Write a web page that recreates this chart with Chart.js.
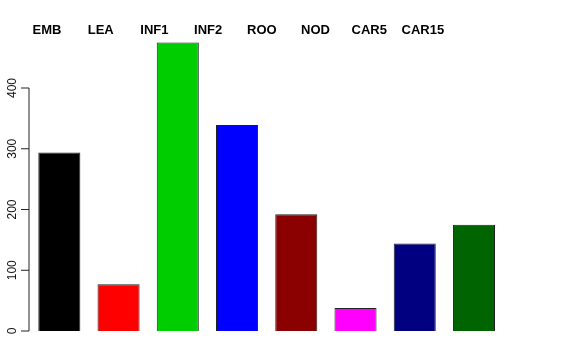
<!DOCTYPE html>
<html>
<head>
<meta charset="utf-8">
<script src="https://cdn.jsdelivr.net/npm/chart.js@4/dist/chart.umd.min.js"></script>
<style>
html,body{margin:0;padding:0;background:#fff;}
#wrap{width:576px;height:360px;position:relative;}
</style>
</head>
<body>
<div id="wrap"><canvas id="c" width="576" height="360"></canvas></div>
<script>
const categories = ["EMB","LEA","INF1","INF2","ROO","NOD","CAR5","CAR15"];
const values = [294, 77, 475, 339, 192, 38, 144, 175];
const barColors = ["#000000","#FF0000","#00CD00","#0000FF","#8B0000","#FF00FF","#000080","#006400"];
const yTicks = [0, 100, 200, 300, 400];

const rAxisPlugin = {
  id: 'rAxis',
  afterDraw(chart) {
    const ctx = chart.ctx;
    const y = chart.scales.y;
    const ax = 29;
    ctx.save();
    ctx.strokeStyle = '#222';
    ctx.lineWidth = 1;
    ctx.beginPath();
    ctx.moveTo(ax, y.getPixelForValue(yTicks[0]));
    ctx.lineTo(ax, y.getPixelForValue(yTicks[yTicks.length-1]));
    yTicks.forEach(t => {
      const py = y.getPixelForValue(t);
      ctx.moveTo(ax, py);
      ctx.lineTo(ax - 8, py);
    });
    ctx.stroke();
    ctx.fillStyle = '#111';
    ctx.font = '12px "Liberation Sans", Arial, sans-serif';
    ctx.textAlign = 'center';
    ctx.textBaseline = 'alphabetic';
    yTicks.forEach(t => {
      const py = y.getPixelForValue(t);
      ctx.save();
      ctx.translate(16, py);
      ctx.rotate(-Math.PI/2);
      ctx.fillText(String(t), 0, 0);
      ctx.restore();
    });
    // top labels
    ctx.fillStyle = '#000';
    ctx.font = 'bold 13px "Liberation Sans", Arial, sans-serif';
    categories.forEach((c, i) => {
      ctx.fillText(c, 47 + i * 53.7, 34);
    });
    ctx.restore();
  }
};

new Chart(document.getElementById('c'), {
  type: 'bar',
  data: {
    labels: categories,
    datasets: [{
      data: values,
      backgroundColor: barColors,
      borderColor: '#222',
      borderWidth: 1,
      barPercentage: 0.71,
      categoryPercentage: 1.0
    }]
  },
  options: {
    responsive: false,
    animation: false,
    devicePixelRatio: 1,
    layout: { padding: { left: 29.7, right: 72.4, top: 39.4, bottom: 29 } },
    plugins: { legend: { display: false }, tooltip: { enabled: false } },
    scales: {
      x: { display: false, offset: true },
      y: { display: false, min: 0, max: 480 }
    }
  },
  plugins: [rAxisPlugin]
});
</script>
</body>
</html>
